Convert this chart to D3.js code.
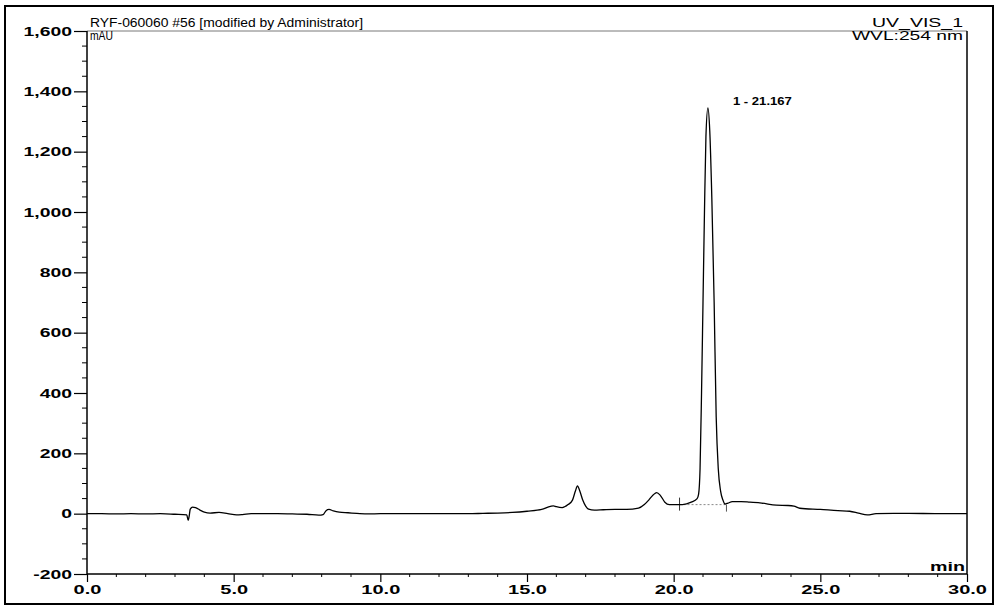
<!DOCTYPE html>
<html><head><meta charset="utf-8">
<script src="https://cdn.jsdelivr.net/npm/d3@7/dist/d3.min.js"></script>
<style>html,body{margin:0;padding:0;background:#fff;}svg{display:block;}</style>
</head><body>
<svg id="c" width="997" height="608"></svg>
<script>
// ---- data ----
const times = [0.0,0.5,1.0,1.5,2.0,2.5,3.0,3.4,3.45,3.48,3.52,3.6,3.7,3.85,4.0,4.2,4.5,4.8,5.1,5.3,5.6,6.0,6.5,7.0,7.5,7.9,8.05,8.15,8.25,8.4,8.6,8.9,9.2,9.6,10.0,11.0,12.0,13.0,13.5,14.0,14.5,15.0,15.5,15.8,15.9,16.0,16.2,16.4,16.55,16.65,16.72,16.8,16.9,17.0,17.1,17.3,17.6,18.0,18.4,18.8,19.0,19.15,19.3,19.42,19.55,19.7,19.85,20.0,20.3,20.6,20.8,20.85,20.9,20.95,21.0,21.05,21.1,21.167,21.23,21.3,21.38,21.45,21.52,21.6,21.68,21.75,21.85,22.0,22.3,22.6,23.0,23.5,23.9,24.1,24.3,25.0,25.6,26.0,26.3,26.6,26.9,27.5,28.0,29.0,30.0];
const signal = [0,0,-1,0,-1,0,-2,-4,-22,-10,15,22,20,12,5,2,4,0,-4,-3,0,0,0,-1,-2,-5,-3,10,14,9,5,3,1,-1,0,0,0,0,1,2,4,8,14,24,26,23,20,30,45,75,92,75,45,25,15,12,13,14,14,18,30,45,62,70,60,38,30,30,30,38,50,65,150,400,700,1000,1250,1345,1270,1050,700,320,150,75,45,32,35,40,40,38,35,28,27,25,18,14,10,8,2,-4,0,1,1,0,0];
const peakTimes = [21.167];
const peakHeights = [1345];
const peakLabels = ["1 - 21.167"];
const integStart = [20.2, 30];   // time, value
const integEnd = [21.8, 30];
const yTicks = [-200,0,200,400,600,800,1000,1200,1400,1600];
const yTickLabels = ["-200","0","200","400","600","800","1,000","1,200","1,400","1,600"];
const xTicks = [0,5,10,15,20,25,30];
const xTickLabels = ["0.0","5.0","10.0","15.0","20.0","25.0","30.0"];
const titleLeft = "RYF-060060 #56 [modified by Administrator]";
const titleRight = "UV_VIS_1";
const unitY = "mAU";
const subRight = "WVL:254 nm";
const unitX = "min";

// ---- layout ----
const svg = d3.select("#c");
const L = 87, R = 967, T = 31, B = 574;
const x = d3.scaleLinear().domain([0,30]).range([L,R]);
const y = d3.scaleLinear().domain([-200,1600]).range([B,T]);
const FONT = "'Liberation Sans', Arial, sans-serif";

function stretch(sel, factor, target){
  sel.each(function(){
    const n = this.getComputedTextLength();
    const w = target != null ? target : n*factor;
    d3.select(this).attr("textLength", w).attr("lengthAdjust","spacingAndGlyphs");
  });
}

// outer frame
svg.append("rect").attr("x",5).attr("y",6).attr("width",988).attr("height",598)
  .attr("fill","none").attr("stroke","#000").attr("stroke-width",2);

// plot top border (thin) and right border
svg.append("line").attr("x1",L).attr("x2",R).attr("y1",T).attr("y2",T)
  .attr("stroke","#555").attr("stroke-width",0.8);
svg.append("line").attr("x1",R).attr("x2",R).attr("y1",T).attr("y2",B)
  .attr("stroke","#000").attr("stroke-width",1.5);

// y axis
const yAxis = d3.axisLeft(y).tickValues(yTicks).tickSize(13).tickPadding(2)
  .tickFormat((d,i)=>yTickLabels[i]);
const gy = svg.append("g").attr("transform",`translate(${L},0)`).call(yAxis);
gy.select(".domain").attr("stroke-width",1.5).attr("d",`M0,${T}V${B}`);
gy.selectAll(".tick line").attr("stroke-width",1.2);
gy.selectAll("text").attr("font-family",FONT).attr("font-weight","bold")
  .attr("font-size",12.5).attr("fill","#000");
stretch(gy.selectAll("text"),1.55);
// y minor ticks
const yMinor = d3.range(-200,1601,50).filter(v=>v%200!==0);
svg.append("g").selectAll("line").data(yMinor).join("line")
  .attr("x1",L-5).attr("x2",L).attr("y1",d=>y(d)).attr("y2",d=>y(d))
  .attr("stroke","#000").attr("stroke-width",1);

// x axis
const xAxis = d3.axisBottom(x).tickValues(xTicks).tickSize(8).tickPadding(3)
  .tickFormat((d,i)=>xTickLabels[i]);
const gx = svg.append("g").attr("transform",`translate(0,${B})`).call(xAxis);
gx.select(".domain").attr("stroke-width",1.5).attr("d",`M${L},0H${R}`);
gx.selectAll(".tick line").attr("stroke-width",1.2);
gx.selectAll("text").attr("font-family",FONT).attr("font-weight","bold")
  .attr("font-size",12.5).attr("fill","#000");
stretch(gx.selectAll("text"),1.6);
const xMinor = d3.range(0,30.01,1).filter(v=>v%5!==0);
svg.append("g").selectAll("line").data(xMinor).join("line")
  .attr("x1",d=>x(d)).attr("x2",d=>x(d)).attr("y1",B).attr("y2",B+3)
  .attr("stroke","#000").attr("stroke-width",1);

// integration baseline (dashed) and markers
svg.append("line").attr("x1",x(integStart[0])).attr("x2",x(integEnd[0]))
  .attr("y1",y(integStart[1])).attr("y2",y(integEnd[1]))
  .attr("stroke","#888").attr("stroke-width",1).attr("stroke-dasharray","2,2");
svg.append("line").attr("x1",x(integStart[0])).attr("x2",x(integStart[0]))
  .attr("y1",y(integStart[1])-7).attr("y2",y(integStart[1])+6)
  .attr("stroke","#333").attr("stroke-width",1);
svg.append("line").attr("x1",x(integEnd[0])).attr("x2",x(integEnd[0]))
  .attr("y1",y(integEnd[1])).attr("y2",y(integEnd[1])+7)
  .attr("stroke","#555").attr("stroke-width",1);

// signal line
const data = times.map((t,i)=>[t,signal[i]]);
svg.append("path").datum(data)
  .attr("d", d3.line().x(d=>x(d[0])).y(d=>y(d[1])).curve(d3.curveMonotoneX))
  .attr("fill","none").attr("stroke","#000").attr("stroke-width",1.3);

// peak label
svg.append("g").selectAll("text").data(peakTimes).join("text")
  .attr("x",(d)=>x(d)+25).attr("y",(d,i)=>y(peakHeights[i])-3)
  .attr("font-family",FONT).attr("font-weight","bold").attr("font-size",10)
  .attr("fill","#000").text((d,i)=>peakLabels[i])
  .call(s=>stretch(s,null,59));

// header texts
const t1 = svg.append("text").attr("x",90).attr("y",27).attr("font-family",FONT)
  .attr("font-size",12).attr("fill","#000").text(titleLeft);
stretch(t1,null,273);
const t2 = svg.append("text").attr("x",90).attr("y",40).attr("font-family",FONT)
  .attr("font-size",12).attr("fill","#000").text(unitY);
stretch(t2,null,23);
const t3 = svg.append("text").attr("x",963).attr("y",27).attr("text-anchor","end")
  .attr("font-family",FONT).attr("font-size",12).attr("fill","#000").text(titleRight);
stretch(t3,null,91);
const t4 = svg.append("text").attr("x",963).attr("y",40).attr("text-anchor","end")
  .attr("font-family",FONT).attr("font-size",12).attr("fill","#000").text(subRight);
stretch(t4,null,111);
const t5 = svg.append("text").attr("x",965).attr("y",571).attr("text-anchor","end")
  .attr("font-family",FONT).attr("font-weight","bold").attr("font-size",12)
  .attr("fill","#000").text(unitX);
stretch(t5,null,35);
</script>
</body></html>
